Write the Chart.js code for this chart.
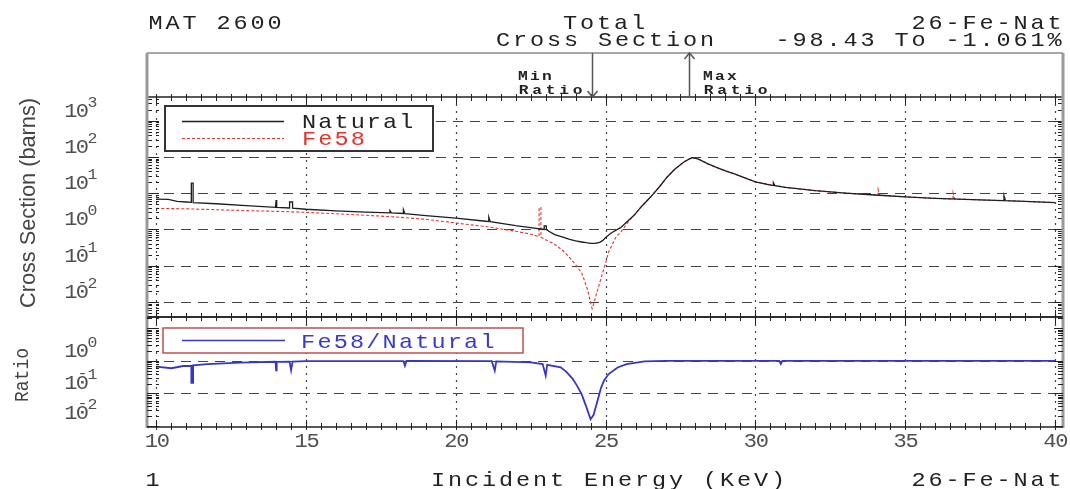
<!DOCTYPE html>
<html>
<head>
<meta charset="utf-8">
<script src="https://cdn.jsdelivr.net/npm/chart.js@4.4.0/dist/chart.umd.min.js"></script>
<style>
  html, body { margin: 0; padding: 0; background: #fff; }
  #wrap { position: relative; width: 1070px; height: 489px; }
  #wrap canvas { position: absolute; left: 0; top: 0; }
</style>
</head>
<body>
<div id="wrap">
  <canvas id="main" width="1070" height="489"></canvas>
  <canvas id="ratio" width="1070" height="489"></canvas>
</div>
<script>
// ---- data -------------------------------------------------------------
const xTicks = [10, 15, 20, 25, 30, 35, 40];          // incident energy ticks (keV)
const xsDecades = [-2, -1, 0, 1, 2, 3];               // cross-section axis powers of ten
const ratioDecades = [-2, -1, 0];                     // ratio axis powers of ten

// natural iron total cross section (keV, barns)
const naturalE = [10.0, 10.4, 10.7, 11.0, 11.17, 11.17, 11.23, 11.23, 12.0, 13.0,
  13.98, 14.0, 14.02, 14.45, 14.45, 14.55, 14.55, 15.0, 16.0, 17.0,
  17.8, 17.8, 17.85, 18.25, 18.25, 18.3, 19.0, 20.0, 21.0, 21.1,
  21.1, 21.15, 22.0, 22.5, 22.95, 22.95, 23.02, 23.02, 23.3, 23.6,
  23.8, 24.0, 24.2, 24.35, 24.5, 24.65, 24.8, 24.9, 25.0, 25.2,
  25.5, 25.95, 26.2, 26.5, 26.8, 27.05, 27.3, 27.6, 27.8, 27.9,
  28.1, 28.4, 28.7, 29.0, 29.3, 30.0, 30.5, 30.6, 30.6, 30.65,
  31.0, 32.0, 33.0, 34.0, 35.0, 36.0, 37.0, 38.0, 38.3, 38.3,
  38.35, 39.0, 40.0];
const naturalXS = [6.8, 6.7, 5.9, 5.7, 5.6, 19.0, 19.0, 5.5, 5.1, 4.5,
  4.05, 6.5, 4.05, 3.9, 5.7, 5.7, 3.85, 3.6, 3.25, 3.0,
  2.85, 3.3, 2.85, 2.75, 3.5, 2.72, 2.4, 2.05, 1.68, 1.65,
  2.2, 1.64, 1.27, 1.12, 1.0, 1.25, 1.25, 0.98, 0.72, 0.6,
  0.53, 0.48, 0.45, 0.43, 0.415, 0.41, 0.44, 0.49, 0.6, 0.81,
  1.12, 2.45, 4.3, 7.8, 15, 27.5, 45, 71, 88, 95,
  87, 65, 51, 41, 34, 20.5, 16.6, 16.3, 19.5, 16.2,
  14.5, 11.7, 10.0, 8.9, 7.9, 7.2, 6.75, 6.3, 6.2, 8.5,
  6.2, 5.9, 5.5];

// Fe-58 total cross section (keV, barns)
const fe58E = [10.0, 11.0, 12.0, 13.0, 14.0, 15.0, 16.0, 17.0, 18.0, 19.0,
  20.0, 21.0, 22.0, 22.5, 22.78, 22.78, 22.84, 22.84, 23.0, 23.3,
  23.6, 23.8, 24.0, 24.2, 24.3, 24.4, 24.48, 24.55, 24.62, 24.7,
  24.8, 24.9, 25.0, 25.1, 25.2, 25.35, 25.5, 25.8, 25.95, 26.2,
  26.5, 26.8, 27.05, 27.3, 27.6, 27.8, 27.9, 28.1, 28.4, 28.7,
  29.0, 29.3, 30.0, 31.0, 32.0, 33.0, 34.0, 34.1, 34.1, 34.15,
  35.0, 36.0, 36.6, 36.6, 36.65, 37.0, 38.0, 39.0, 40.0];
const fe58XS = [3.8, 3.7, 3.5, 3.3, 3.15, 2.95, 2.7, 2.45, 2.2, 1.9,
  1.5, 1.2, 0.89, 0.74, 0.63, 4.0, 4.0, 0.61, 0.52, 0.39,
  0.25, 0.166, 0.107, 0.063, 0.038, 0.0214, 0.0112, 0.0066, 0.0098, 0.0174,
  0.033, 0.063, 0.12, 0.24, 0.35, 0.63, 0.83, 1.8, 2.45, 4.3,
  7.8, 15, 27.5, 45, 71, 88, 95, 87, 65, 51,
  41, 34, 20.5, 14.5, 11.7, 10.0, 8.9, 8.8, 12.5, 8.8,
  7.9, 7.2, 6.9, 10.0, 6.9, 6.75, 6.3, 5.9, 5.5];

// Fe-58 / natural ratio (keV, ratio)
const ratioE = [10.0, 10.5, 10.9, 11.17, 11.17, 11.23, 11.23, 11.7, 12.8, 13.98,
  14.0, 14.02, 14.45, 14.5, 14.55, 15.0, 16.0, 18.25, 18.3, 18.35,
  21.2, 21.3, 21.35, 22.5, 22.9, 23.0, 23.05, 23.5, 23.7, 23.9,
  24.05, 24.2, 24.35, 24.5, 24.6, 24.7, 24.85, 24.95, 25.1, 25.4,
  25.7, 26.3, 27.0, 30.8, 30.85, 30.9, 40.0];
const ratioV = [0.66, 0.59, 0.69, 0.69, 0.21, 0.21, 0.72, 0.79, 0.87, 0.93,
  0.51, 0.93, 0.94, 0.51, 0.94, 0.97, 0.98, 0.98, 0.7, 0.98,
  0.97, 0.5, 0.96, 0.89, 0.79, 0.35, 0.75, 0.63, 0.45, 0.28,
  0.17, 0.095, 0.04, 0.0162, 0.022, 0.047, 0.15, 0.25, 0.39, 0.62,
  0.79, 0.95, 0.99, 0.99, 0.8, 0.99, 0.99];

const minRatioEnergy = 24.53, maxRatioEnergy = 27.8;  // keV
const minRatioPct = '-98.43', maxRatioPct = '-1.061';

// ---- drawing helpers ---------------------------------------------------
const MONO = '"Liberation Mono", "DejaVu Sans Mono", monospace';
const INK = '#222';
const GRIDC = '#444';
const X_MIN = 9.69, X_MAX = 40.27;
const FRAME_L = 147, FRAME_R = 1063, HEAD_TOP = 53;

function pts(xs, ys) { return xs.map((x, i) => ({ x, y: ys[i] })); }

// fixed-cell text, like a plotter's monospaced lettering; sx widens glyphs
function cellText(ctx, str, x, y, cell, align, sx) {
  const n = str.length;
  const k = sx || 1;
  let x0 = x;
  if (align === 'right') x0 = x - n * cell;
  else if (align === 'center') x0 = x - n * cell / 2;
  ctx.textAlign = 'center';
  ctx.textBaseline = 'alphabetic';
  for (let i = 0; i < n; i++) {
    ctx.save();
    ctx.translate(x0 + (i + 0.5) * cell, y);
    ctx.scale(k, 1);
    ctx.fillText(str[i], 0, 0);
    ctx.restore();
  }
}

function seg(ctx, x1, y1, x2, y2) {
  ctx.beginPath(); ctx.moveTo(x1, y1); ctx.lineTo(x2, y2); ctx.stroke();
}

function drawVGrid(ctx, chart) {
  const a = chart.chartArea, xs = chart.scales.x;
  ctx.save();
  ctx.strokeStyle = GRIDC; ctx.lineWidth = 1.2; ctx.setLineDash([2, 5]);
  xTicks.forEach(v => {
    const px = Math.round(xs.getPixelForValue(v)) + 0.5;
    seg(ctx, px, a.top, px, a.bottom);
  });
  ctx.restore();
}

function drawHGrid(ctx, chart, decades) {
  const a = chart.chartArea, ys = chart.scales.y;
  ctx.save();
  ctx.strokeStyle = GRIDC; ctx.lineWidth = 1.2; ctx.setLineDash([10, 7]);
  decades.forEach(d => {
    const py = Math.round(ys.getPixelForValue(Math.pow(10, d))) + 0.5;
    if (py > a.top + 1 && py < a.bottom - 1) seg(ctx, a.left, py, a.right, py);
  });
  ctx.restore();
}

function drawPanelFrame(ctx, chart, decades) {
  const a = chart.chartArea, xs = chart.scales.x, ys = chart.scales.y;
  ctx.save();
  ctx.strokeStyle = '#222'; ctx.lineWidth = 1.5;
  seg(ctx, a.left, a.top, a.right, a.top);
  seg(ctx, a.left, a.bottom, a.right, a.bottom);
  // energy ticks every 0.5 keV on top and bottom edges
  ctx.lineWidth = 1;
  for (let v = 10; v <= 40.001; v += 0.5) {
    const px = Math.round(xs.getPixelForValue(v)) + 0.5;
    const len = (Math.abs(v - Math.round(v / 5) * 5) < 1e-6) ? 7 : 4;
    seg(ctx, px, a.top - 3, px, a.top + len);
    seg(ctx, px, a.bottom + 3, px, a.bottom - len);
  }
  // log ticks on the side edges
  const lo = Math.floor(Math.log10(ys.min)), hi = Math.ceil(Math.log10(ys.max));
  for (let d = lo; d <= hi; d++) {
    for (let k = 1; k <= 9; k++) {
      const v = k * Math.pow(10, d);
      if (v < ys.min || v > ys.max) continue;
      const py = Math.round(ys.getPixelForValue(v)) + 0.5;
      const len = k === 1 ? 9 : 5;
      seg(ctx, a.left, py, a.left + len, py);
      seg(ctx, a.right, py, a.right - len, py);
      seg(ctx, FRAME_L + 9, py, FRAME_L + 12, py);
    }
  }
  ctx.restore();
  // tick labels 10^n
  decades.forEach(d => {
    const py = ys.getPixelForValue(Math.pow(10, d));
    let base = py - 4;
    if (base > a.bottom - 6) base = a.bottom - 8;
    ctx.save();
    ctx.fillStyle = '#505050';
    ctx.font = '21px ' + MONO;
    cellText(ctx, '10', 65, base, 11.5, 'left', 1.05);
    ctx.font = '15px ' + MONO;
    cellText(ctx, String(Math.abs(d)), 88, base - 10, 9, 'left', 1.1);
    if (d < 0) cellText(ctx, '-', 77, base - 11, 11, 'left', 1.1);
    ctx.restore();
  });
}

function rotatedText(ctx, str, cx, cy, font, len, color) {
  ctx.save();
  ctx.translate(cx, cy);
  ctx.rotate(-Math.PI / 2);
  ctx.font = font;
  ctx.fillStyle = color;
  ctx.textAlign = 'center';
  ctx.textBaseline = 'middle';
  const w = ctx.measureText(str).width;
  ctx.scale(len / w, 1);
  ctx.fillText(str, 0, 0);
  ctx.restore();
}

// ---- main cross-section panel -----------------------------------------
const mainDecor = {
  id: 'mainDecor',
  beforeDatasetsDraw(chart) {
    const ctx = chart.ctx;
    drawVGrid(ctx, chart);
    drawHGrid(ctx, chart, xsDecades);
  },
  afterDatasetsDraw(chart) {
    const ctx = chart.ctx, a = chart.chartArea, xs = chart.scales.x;
    drawPanelFrame(ctx, chart, xsDecades);

    // header box with outer side rails
    ctx.save();
    ctx.strokeStyle = '#8a8a8a'; ctx.lineWidth = 1.5;
    seg(ctx, FRAME_L, HEAD_TOP, FRAME_R, HEAD_TOP);
    ctx.lineWidth = 3; ctx.strokeStyle = '#9a9a9a';
    seg(ctx, FRAME_L, HEAD_TOP, FRAME_L, 428);
    seg(ctx, FRAME_R, HEAD_TOP, FRAME_R, 428);
    ctx.restore();

    // header text
    ctx.save();
    ctx.fillStyle = INK;
    ctx.font = '21px ' + MONO;
    cellText(ctx, 'MAT 2600', FRAME_L, 29, 17, 'left', 1.12);
    cellText(ctx, 'Total', 604, 29, 17, 'center', 1.12);
    cellText(ctx, '26-Fe-Nat', FRAME_R, 29, 17, 'right', 1.12);
    cellText(ctx, 'Cross Section', 605, 46, 17, 'center', 1.12);
    cellText(ctx, minRatioPct + ' To ' + maxRatioPct + '%', FRAME_R, 46, 17, 'right', 1.12);
    ctx.restore();

    // min / max ratio markers
    const xMin = Math.round(xs.getPixelForValue(minRatioEnergy)) + 0.5;
    const xMax = Math.round(xs.getPixelForValue(maxRatioEnergy)) + 0.5;
    ctx.save();
    ctx.strokeStyle = '#555'; ctx.lineWidth = 1.5;
    seg(ctx, xMin, HEAD_TOP, xMin, a.top);
    ctx.beginPath(); ctx.moveTo(xMin - 5, a.top - 6); ctx.lineTo(xMin, a.top); ctx.lineTo(xMin + 5, a.top - 6); ctx.stroke();
    seg(ctx, xMax, HEAD_TOP, xMax, a.top);
    ctx.beginPath(); ctx.moveTo(xMax - 5, HEAD_TOP + 6); ctx.lineTo(xMax, HEAD_TOP); ctx.lineTo(xMax + 5, HEAD_TOP + 6); ctx.stroke();
    ctx.fillStyle = INK;
    ctx.font = 'bold 13px ' + MONO;
    cellText(ctx, 'Min', 517, 80, 12, 'left', 1.25);
    cellText(ctx, 'Ratio', 517, 94, 13.5, 'left', 1.25);
    cellText(ctx, 'Max', 702, 80, 12, 'left', 1.25);
    cellText(ctx, 'Ratio', 702, 94, 13.5, 'left', 1.25);
    ctx.restore();

    // legend
    const ds = chart.data.datasets;
    ctx.save();
    ctx.fillStyle = '#fff';
    ctx.fillRect(165, 106, 268, 45);
    ctx.strokeStyle = '#333'; ctx.lineWidth = 2;
    ctx.strokeRect(165, 106, 268, 45);
    const rows = [121, 138];
    ds.forEach((d, i) => {
      ctx.strokeStyle = d.borderColor; ctx.lineWidth = d.borderWidth;
      ctx.setLineDash(d.borderDash || []);
      seg(ctx, 182, rows[i] + 0.5, 284, rows[i] + 0.5);
      ctx.setLineDash([]);
      ctx.fillStyle = d.legendText;
      ctx.font = '21px ' + MONO;
      cellText(ctx, d.label, 301, rows[i] + 7, 16.2, 'left', 1.12);
    });
    ctx.restore();

    // y title
    rotatedText(ctx, 'Cross Section (barns)', 29, 203, '22px "Liberation Sans Narrow", "Liberation Sans", sans-serif', 210, '#444');
  }
};

new Chart(document.getElementById('main'), {
  type: 'line',
  data: {
    datasets: [
      { label: 'Natural', data: pts(naturalE, naturalXS), borderColor: '#1e1e1e', borderWidth: 1.3,
        legendText: '#222', pointRadius: 0, tension: 0 },
      { label: 'Fe58', data: pts(fe58E, fe58XS), borderColor: '#e8322c', borderWidth: 1.1, borderDash: [3, 2],
        legendText: '#e8322c', pointRadius: 0, tension: 0 }
    ]
  },
  options: {
    responsive: false, animation: false, devicePixelRatio: 1,
    layout: { padding: { left: FRAME_L, right: 1070 - FRAME_R, top: 97, bottom: 489 - 317 } },
    plugins: { legend: { display: false }, tooltip: { enabled: false } },
    scales: {
      x: { type: 'linear', display: false, min: X_MIN, max: X_MAX },
      y: { type: 'logarithmic', display: false, min: Math.pow(10, -2.414), max: Math.pow(10, 3.65) }
    }
  },
  plugins: [mainDecor]
});

// ---- ratio panel ------------------------------------------------------
const ratioDecor = {
  id: 'ratioDecor',
  beforeDatasetsDraw(chart) {
    const ctx = chart.ctx;
    drawVGrid(ctx, chart);
    drawHGrid(ctx, chart, ratioDecades);
  },
  afterDatasetsDraw(chart) {
    const ctx = chart.ctx, xs = chart.scales.x;
    drawPanelFrame(ctx, chart, ratioDecades);

    // legend
    const d = chart.data.datasets[0];
    ctx.save();
    ctx.fillStyle = '#fff';
    ctx.fillRect(163, 328, 360, 25);
    ctx.strokeStyle = '#c05050'; ctx.lineWidth = 1.5;
    ctx.strokeRect(163, 328, 360, 25);
    ctx.strokeStyle = d.borderColor; ctx.lineWidth = 1.5;
    seg(ctx, 182, 340.5, 285, 340.5);
    ctx.fillStyle = '#3a3ac8';
    ctx.font = '21px ' + MONO;
    cellText(ctx, d.label, 300, 348, 16.3, 'left', 1.12);
    ctx.restore();

    // energy tick labels
    ctx.save();
    ctx.fillStyle = '#505050';
    ctx.font = '21px ' + MONO;
    xTicks.forEach(v => cellText(ctx, String(v), xs.getPixelForValue(v) + 1, 447, 12, 'center', 1.05));
    ctx.fillStyle = INK;
    cellText(ctx, '1', 147, 486, 11, 'left', 1.12);
    cellText(ctx, 'Incident Energy (KeV)', 608, 486, 17, 'center', 1.12);
    cellText(ctx, '26-Fe-Nat', FRAME_R, 486, 17, 'right', 1.12);
    ctx.restore();

    rotatedText(ctx, 'Ratio', 23, 375, '20px ' + MONO, 54, '#444');
  }
};

new Chart(document.getElementById('ratio'), {
  type: 'line',
  data: {
    datasets: [
      { label: 'Fe58/Natural', data: pts(ratioE, ratioV), borderColor: '#3636c8', borderWidth: 1.8,
        pointRadius: 0, tension: 0 }
    ]
  },
  options: {
    responsive: false, animation: false, devicePixelRatio: 1,
    layout: { padding: { left: FRAME_L, right: 1070 - FRAME_R, top: 317, bottom: 489 - 427 } },
    plugins: { legend: { display: false }, tooltip: { enabled: false } },
    scales: {
      x: { type: 'linear', display: false, min: X_MIN, max: X_MAX },
      y: { type: 'logarithmic', display: false, min: Math.pow(10, -2.03), max: Math.pow(10, 1.34) }
    }
  },
  plugins: [ratioDecor]
});
</script>
</body>
</html>
